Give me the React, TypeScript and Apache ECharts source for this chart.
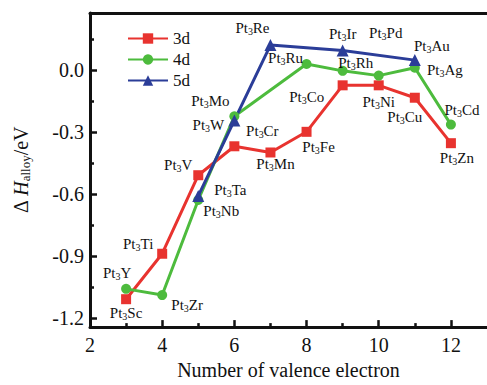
import React, { useEffect, useRef } from "react";
import * as echarts from "echarts";

const x3d = [3, 4, 5, 6, 7, 8, 9, 10, 11, 12];
const y3d = [-1.11, -0.89, -0.51, -0.37, -0.4, -0.3, -0.075, -0.075, -0.135, -0.355];
const n3d = ["Sc", "Ti", "V", "Cr", "Mn", "Fe", "Co", "Ni", "Cu", "Zn"];

const x4d = [3, 4, 5, 6, 8, 9, 10, 11, 12];
const y4d = [-1.06, -1.09, -0.63, -0.225, 0.028, -0.005, -0.028, 0.01, -0.265];
const n4d = ["Y", "Zr", "Nb", "Mo", "Ru", "Rh", "Pd", "Ag", "Cd"];

const x5d = [5, 6, 7, 9, 11];
const y5d = [-0.61, -0.245, 0.12, 0.093, 0.047];
const n5d = ["Ta", "W", "Re", "Ir", "Au"];

const xTickLabels = [2, 4, 6, 8, 10, 12];
const xMinorTicks = [3, 5, 7, 9, 11];
const yTickLabels = [-1.2, -0.9, -0.6, -0.3, 0.0];
const yMinorTicks = [-1.05, -0.75, -0.45, -0.15, 0.15];

// label offsets (style, kept apart from data)
const off3d = [[0, 14], [-24, -10], [-20, -10], [28, -15], [5, 12], [12, 15], [-36, 12], [0, 17], [-10, 19], [6, 15]];
const off4d = [[-9, -16], [25, 10], [23, 11], [-24, -15], [-21, -6], [13, -8], [7, -43], [30, 2], [11, -15]];
const off5d = [[32, -6], [-26, 5], [-18, -17], [0, -17], [17, -14]];

const FONT = "'Liberation Serif', 'Times New Roman', serif";
const RED = "#e8332f";
const GREEN = "#4dbb3d";
const BLUE = "#2b3d98";

function build(xs: number[], ys: number[], names: string[], offs: number[][]) {
  return xs.map((x, i) => ({
    value: [x, ys[i]],
    label: {
      show: true,
      position: "inside",
      offset: offs[i],
      formatter: `{a|Pt}{s|3}{a|${names[i]}}`,
    },
  }));
}

const labelRich = {
  a: { fontFamily: FONT, fontSize: 15, color: "#111" },
  s: { fontFamily: FONT, fontSize: 10, color: "#111", padding: [7, 0, 0, 0] },
};

export default function App() {
  const ref = useRef<HTMLDivElement>(null);
  useEffect(() => {
    const chart = echarts.init(ref.current!, null, { renderer: "svg" });
    const mkSeries = (name: string, color: string, symbol: string, size: number, data: any[]) => ({
      name,
      type: "line",
      xAxisIndex: 0,
      yAxisIndex: 0,
      symbol,
      symbolSize: size,
      data,
      lineStyle: { color, width: 3 },
      itemStyle: { color },
      label: { rich: labelRich, color: "#111" },
      emphasis: { disabled: true },
    });
    const tickStyle = { color: "#111", width: 2.5 };
    chart.setOption({
      animation: false,
      backgroundColor: "#fff",
      textStyle: { fontFamily: FONT },
      grid: { left: 90, top: 13, right: -7, bottom: 47 },
      legend: {
        left: 122,
        top: 25,
        orient: "vertical",
        itemWidth: 40,
        itemHeight: 13,
        itemGap: 4,
        textStyle: { fontFamily: FONT, fontSize: 17, color: "#111" },
        data: ["3d", "4d", "5d"],
      },
      xAxis: [
        {
          type: "value",
          min: 2,
          max: 13,
          name: "Number of valence electron",
          nameLocation: "middle",
          nameGap: 27,
          nameTextStyle: { fontFamily: FONT, fontSize: 20, color: "#111" },
          axisLine: { show: true, onZero: false, lineStyle: { color: "#111", width: 3 } },
          axisTick: { show: true, inside: true, length: 7, lineStyle: tickStyle, customValues: xTickLabels },
          axisLabel: { fontFamily: FONT, fontSize: 20, color: "#111", margin: 8, customValues: xTickLabels },
          splitLine: { show: false },
        },
        {
          type: "value",
          position: "bottom",
          min: 2,
          max: 13,
          axisLine: { show: false, onZero: false },
          axisTick: { show: true, inside: true, length: 4, lineStyle: tickStyle, customValues: xMinorTicks },
          axisLabel: { show: false, customValues: xMinorTicks },
          splitLine: { show: false },
        },
        {
          type: "value",
          position: "top",
          min: 2,
          max: 13,
          axisLine: { show: true, onZero: false, lineStyle: { color: "#111", width: 3 } },
          axisTick: { show: false },
          axisLabel: { show: false },
          splitLine: { show: false },
        },
      ],
      yAxis: [
        {
          type: "value",
          min: -1.245,
          max: 0.275,
          name: "{d|Δ }{h|H}{s|alloy}{d|/eV}",
          nameLocation: "middle",
          nameGap: 58,
          nameRotate: 90,
          nameTextStyle: {
            rich: {
              d: { fontFamily: FONT, fontSize: 20, color: "#111" },
              h: { fontFamily: FONT, fontSize: 20, fontStyle: "italic", color: "#111" },
              s: { fontFamily: FONT, fontSize: 13, color: "#111", padding: [9, 0, 0, 0] },
            },
          },
          axisLine: { show: true, onZero: false, lineStyle: { color: "#111", width: 3 } },
          axisTick: { show: true, inside: true, length: 7, lineStyle: tickStyle, customValues: yTickLabels },
          axisLabel: {
            fontFamily: FONT,
            fontSize: 20,
            color: "#111",
            margin: 6,
            customValues: yTickLabels,
            formatter: (v: number) => v.toFixed(1),
          },
          splitLine: { show: false },
        },
        {
          type: "value",
          position: "left",
          min: -1.245,
          max: 0.275,
          axisLine: { show: false, onZero: false },
          axisTick: { show: true, inside: true, length: 4, lineStyle: tickStyle, customValues: yMinorTicks },
          axisLabel: { show: false, customValues: yMinorTicks },
          splitLine: { show: false },
        },
      ],
      series: [
        mkSeries("3d", RED, "rect", 10, build(x3d, y3d, n3d, off3d)),
        mkSeries("4d", GREEN, "circle", 10, build(x4d, y4d, n4d, off4d)),
        mkSeries("5d", BLUE, "triangle", 12, build(x5d, y5d, n5d, off5d)),
      ],
    });
    return () => chart.dispose();
  }, []);
  return (
    <div
      ref={ref}
      style={{ position: "fixed", left: 0, top: 0, width: 487, height: 385, background: "#fff" }}
    />
  );
}
